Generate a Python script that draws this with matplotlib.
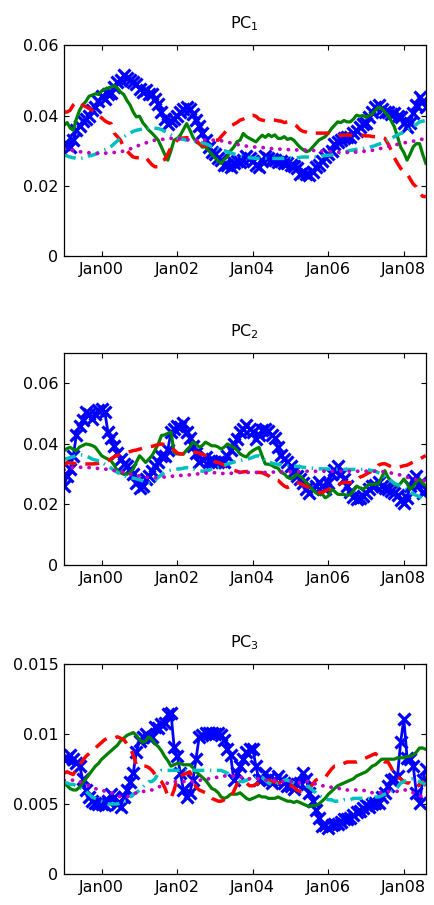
import matplotlib
matplotlib.use("Agg")
import matplotlib.pyplot as plt
import matplotlib.dates as mdates
import pandas as pd

plt.rcParams['font.family'] = ['DejaVu Sans']
plt.rcParams['mathtext.fontset'] = 'dejavusans'

# monthly observations, Jan 1999 .. Aug 2008
dates = pd.date_range('1999-01-01', periods=116, freq='MS')

# ---------------- PC1 ----------------
pc1_blue = [0.032, 0.0315, 0.031, 0.033, 0.0358, 0.037, 0.0385, 0.039, 0.040, 0.0415, 0.0425, 0.044,
            0.0455, 0.0448, 0.0462, 0.0465, 0.048, 0.0495, 0.050, 0.0514, 0.0508, 0.0502, 0.0495, 0.049,
            0.0475, 0.0468, 0.0472, 0.0462, 0.046, 0.0448, 0.0434, 0.041, 0.039, 0.0377, 0.0385, 0.039,
            0.040, 0.041, 0.042, 0.0425, 0.042, 0.0405, 0.0387, 0.037, 0.035, 0.033, 0.031, 0.0295,
            0.029, 0.028, 0.0273, 0.026, 0.0258, 0.0254, 0.0265, 0.027, 0.0268, 0.0273, 0.0285, 0.028,
            0.027, 0.026, 0.0254, 0.027, 0.0284, 0.028, 0.0275, 0.0273, 0.0268, 0.027, 0.0265, 0.0264,
            0.026, 0.0255, 0.025, 0.0235, 0.024, 0.0235, 0.0232, 0.0238, 0.0254, 0.026, 0.0272, 0.0282,
            0.029, 0.030, 0.032, 0.0325, 0.033, 0.0335, 0.0339, 0.034, 0.035, 0.0355, 0.0368, 0.0375,
            0.038, 0.0396, 0.041, 0.0425, 0.0429, 0.042, 0.041, 0.041, 0.0405, 0.0406, 0.040, 0.0396,
            0.038, 0.0368, 0.038, 0.0406, 0.043, 0.0453, 0.044, 0.0424]
pc1_green = [0.0372, 0.038, 0.0365, 0.0358, 0.039, 0.0415, 0.043, 0.044, 0.0455, 0.0458, 0.0462, 0.046,
             0.047, 0.0475, 0.0478, 0.0481, 0.0485, 0.0478, 0.0467, 0.046, 0.0443, 0.043, 0.041, 0.0396,
             0.0398, 0.038, 0.037, 0.0358, 0.035, 0.034, 0.033, 0.031, 0.029, 0.0273, 0.030, 0.033,
             0.0335, 0.0345, 0.036, 0.0377, 0.036, 0.0339, 0.0325, 0.032, 0.031, 0.0311, 0.030, 0.029,
             0.028, 0.027, 0.0264, 0.0275, 0.0283, 0.030, 0.031, 0.0325, 0.033, 0.0349, 0.034, 0.0335,
             0.033, 0.0325, 0.0335, 0.0344, 0.0338, 0.0346, 0.034, 0.0345, 0.0335, 0.0335, 0.034, 0.0332,
             0.0335, 0.033, 0.032, 0.031, 0.0303, 0.0297, 0.030, 0.031, 0.032, 0.033, 0.0335, 0.034,
             0.035, 0.0363, 0.0372, 0.0382, 0.038, 0.0386, 0.0382, 0.0382, 0.039, 0.0401, 0.0398, 0.040,
             0.0395, 0.040, 0.0405, 0.0415, 0.0424, 0.042, 0.041, 0.040, 0.0385, 0.0368, 0.034, 0.031,
             0.0295, 0.0273, 0.029, 0.0311, 0.032, 0.032, 0.029, 0.0264]
pc1_red = [0.041, 0.041, 0.0415, 0.043, 0.0438, 0.0439, 0.043, 0.0425, 0.042, 0.0415, 0.041, 0.040,
           0.0393, 0.0385, 0.038, 0.0377, 0.035, 0.034, 0.033, 0.031, 0.030, 0.029, 0.0282, 0.028,
           0.028, 0.0282, 0.0282, 0.027, 0.026, 0.0254, 0.0255, 0.027, 0.0275, 0.029, 0.031, 0.032,
           0.033, 0.0336, 0.0336, 0.0337, 0.0336, 0.0336, 0.033, 0.032, 0.0315, 0.0313, 0.032, 0.0325,
           0.033, 0.033, 0.034, 0.035, 0.036, 0.037, 0.0375, 0.038, 0.0387, 0.039, 0.0395, 0.040,
           0.0401, 0.0398, 0.039, 0.0387, 0.0385, 0.0387, 0.0388, 0.0387, 0.0385, 0.0384, 0.038, 0.0382,
           0.038, 0.0375, 0.037, 0.036, 0.0355, 0.0353, 0.035, 0.0352, 0.035, 0.035, 0.035, 0.035,
           0.035, 0.0348, 0.0346, 0.0345, 0.0344, 0.0344, 0.0345, 0.0344, 0.0344, 0.0344, 0.0344, 0.0344,
           0.0342, 0.0342, 0.034, 0.034, 0.034, 0.0338, 0.0335, 0.032, 0.0301, 0.028, 0.0264, 0.025,
           0.024, 0.0235, 0.022, 0.0205, 0.0197, 0.018, 0.017, 0.0169]
pc1_cyan = [0.0287, 0.0285, 0.0282, 0.028, 0.0278, 0.0278, 0.0279, 0.0282, 0.0285, 0.0287, 0.029, 0.0295,
            0.030, 0.0303, 0.0306, 0.0312, 0.032, 0.0328, 0.0335, 0.0339, 0.0345, 0.035, 0.0355, 0.0358,
            0.036, 0.0362, 0.0363, 0.0364, 0.0365, 0.0364, 0.0363, 0.036, 0.0355, 0.035, 0.0345, 0.0339,
            0.0336, 0.0334, 0.0332, 0.033, 0.033, 0.0328, 0.0327, 0.0325, 0.0322, 0.032, 0.0316, 0.0311,
            0.0308, 0.0305, 0.0302, 0.030, 0.0297, 0.0294, 0.0291, 0.0288, 0.0285, 0.0283, 0.0282, 0.028,
            0.0279, 0.0278, 0.0278, 0.0278, 0.0278, 0.0278, 0.0278, 0.0278, 0.0278, 0.0278, 0.0278, 0.0279,
            0.028, 0.028, 0.028, 0.0281, 0.0282, 0.0282, 0.0282, 0.0283, 0.0283, 0.0284, 0.0285, 0.0286,
            0.0287, 0.0288, 0.029, 0.0292, 0.0294, 0.0296, 0.0298, 0.0301, 0.0302, 0.0304, 0.0305, 0.0306,
            0.0308, 0.031, 0.0312, 0.0315, 0.0318, 0.0322, 0.0325, 0.033, 0.0335, 0.034, 0.0345, 0.0349,
            0.0353, 0.0358, 0.0363, 0.0368, 0.0375, 0.0382, 0.0384, 0.0386]
pc1_magenta = [0.0306, 0.0305, 0.0303, 0.0301, 0.0299, 0.0297, 0.0296, 0.0295, 0.0294, 0.0293, 0.0292, 0.0292,
               0.0292, 0.0293, 0.0293, 0.0294, 0.0295, 0.0296, 0.0297, 0.0299, 0.0302, 0.0305, 0.0308, 0.0312,
               0.0316, 0.0319, 0.0322, 0.0325, 0.0328, 0.033, 0.0331, 0.0332, 0.0333, 0.0334, 0.0335, 0.0335,
               0.0335, 0.0334, 0.0333, 0.0332, 0.0331, 0.033, 0.033, 0.033, 0.033, 0.033, 0.033, 0.033,
               0.033, 0.0329, 0.0328, 0.0327, 0.0325, 0.0322, 0.032, 0.0318, 0.0316, 0.0314, 0.0313, 0.0312,
               0.0311, 0.031, 0.031, 0.0309, 0.0308, 0.0307, 0.0306, 0.0305, 0.0305, 0.0304, 0.0304, 0.0303,
               0.0303, 0.0303, 0.0302, 0.0302, 0.0302, 0.0302, 0.0301, 0.0301, 0.030, 0.030, 0.0299, 0.0299,
               0.0298, 0.0297, 0.0296, 0.0296, 0.0295, 0.0295, 0.0295, 0.0295, 0.0296, 0.0296, 0.0297, 0.0298,
               0.0299, 0.030, 0.0301, 0.0303, 0.0305, 0.0307, 0.031, 0.0312, 0.0314, 0.0316, 0.0318, 0.032,
               0.0322, 0.0324, 0.0325, 0.0327, 0.0329, 0.0331, 0.0333, 0.0334]

# ---------------- PC2 ----------------
pc2_blue = [0.0261, 0.0294, 0.0317, 0.036, 0.0429, 0.046, 0.048, 0.0506, 0.050, 0.0483, 0.050, 0.0511,
            0.0515, 0.0505, 0.044, 0.042, 0.0394, 0.037, 0.035, 0.0335, 0.0328, 0.0317, 0.030, 0.0272,
            0.0256, 0.026, 0.0283, 0.0294, 0.031, 0.0328, 0.0339, 0.036, 0.0361, 0.038, 0.0439, 0.045,
            0.0461, 0.0455, 0.0468, 0.0439, 0.042, 0.0394, 0.037, 0.0339, 0.0351, 0.0356, 0.0345, 0.034,
            0.034, 0.034, 0.0345, 0.034, 0.036, 0.038, 0.040, 0.0418, 0.044, 0.0451, 0.0462, 0.045,
            0.044, 0.0418, 0.043, 0.0445, 0.045, 0.0442, 0.043, 0.042, 0.039, 0.0362, 0.035, 0.034,
            0.0328, 0.031, 0.0295, 0.0284, 0.027, 0.025, 0.0239, 0.025, 0.026, 0.0273, 0.026, 0.025,
            0.027, 0.030, 0.0315, 0.0328, 0.030, 0.0284, 0.026, 0.024, 0.0225, 0.0217, 0.022, 0.0228,
            0.0239, 0.025, 0.026, 0.0265, 0.0273, 0.026, 0.0255, 0.025, 0.0245, 0.0239, 0.023, 0.0215,
            0.0206, 0.022, 0.026, 0.028, 0.0295, 0.027, 0.0239, 0.025]
pc2_green = [0.0378, 0.0385, 0.0389, 0.0382, 0.0378, 0.039, 0.0395, 0.040, 0.0398, 0.0395, 0.0389, 0.0375,
             0.0361, 0.0355, 0.035, 0.0344, 0.033, 0.0311, 0.0305, 0.030, 0.030, 0.0305, 0.0317, 0.034,
             0.0361, 0.035, 0.0339, 0.035, 0.0361, 0.038, 0.040, 0.0428, 0.043, 0.0435, 0.0439, 0.0372,
             0.0367, 0.0367, 0.0367, 0.038, 0.039, 0.0406, 0.040, 0.0389, 0.0395, 0.0406, 0.040, 0.0394,
             0.0394, 0.039, 0.0383, 0.039, 0.040, 0.0395, 0.0389, 0.038, 0.0367, 0.0361, 0.0357, 0.037,
             0.0378, 0.0384, 0.0389, 0.036, 0.0334, 0.0333, 0.033, 0.0323, 0.032, 0.0306, 0.0301, 0.029,
             0.0285, 0.029, 0.0301, 0.0294, 0.0285, 0.0273, 0.026, 0.025, 0.0239, 0.0233, 0.0235, 0.0222,
             0.0228, 0.025, 0.0244, 0.0234, 0.0233, 0.0233, 0.023, 0.0233, 0.0245, 0.0261, 0.0255, 0.025,
             0.0258, 0.0267, 0.0267, 0.0267, 0.027, 0.029, 0.0312, 0.029, 0.0278, 0.0267, 0.0261, 0.027,
             0.0284, 0.027, 0.025, 0.026, 0.0275, 0.0284, 0.027, 0.0262]
pc2_red = [0.0328, 0.0339, 0.0337, 0.0336, 0.0335, 0.0334, 0.0334, 0.0334, 0.0334, 0.0334, 0.0335, 0.0336,
           0.0338, 0.0339, 0.0345, 0.0351, 0.0358, 0.0362, 0.0367, 0.037, 0.0373, 0.0375, 0.0378, 0.038,
           0.0383, 0.0386, 0.0388, 0.039, 0.0392, 0.0395, 0.0398, 0.040, 0.0398, 0.0393, 0.039, 0.038,
           0.037, 0.0367, 0.0367, 0.0368, 0.037, 0.0372, 0.0373, 0.037, 0.0365, 0.0362, 0.0355, 0.0348,
           0.0341, 0.0339, 0.0335, 0.033, 0.0325, 0.0317, 0.0313, 0.031, 0.0306, 0.0308, 0.0309, 0.0309,
           0.0308, 0.0306, 0.0306, 0.0305, 0.030, 0.0295, 0.0286, 0.0283, 0.028, 0.027, 0.0261, 0.0256,
           0.0262, 0.0268, 0.0273, 0.027, 0.0265, 0.026, 0.0256, 0.025, 0.0244, 0.024, 0.0239, 0.0245,
           0.025, 0.0256, 0.026, 0.0265, 0.027, 0.0273, 0.0273, 0.0272, 0.0272, 0.028, 0.029, 0.0294,
           0.030, 0.0306, 0.031, 0.0318, 0.033, 0.0334, 0.0335, 0.033, 0.0325, 0.0322, 0.0323, 0.0325,
           0.0328, 0.033, 0.0335, 0.034, 0.0345, 0.035, 0.0356, 0.0362]
pc2_cyan = [0.035, 0.0352, 0.0355, 0.0358, 0.0362, 0.0365, 0.0363, 0.036, 0.0356, 0.035, 0.0347, 0.0344,
            0.034, 0.0333, 0.0328, 0.032, 0.0313, 0.0306, 0.030, 0.0295, 0.029, 0.0289, 0.0287, 0.0285,
            0.0282, 0.0278, 0.0273, 0.0272, 0.0275, 0.028, 0.029, 0.0298, 0.0305, 0.0311, 0.0313, 0.0315,
            0.0317, 0.0318, 0.032, 0.0322, 0.032, 0.0318, 0.0315, 0.0312, 0.031, 0.0311, 0.0313, 0.0317,
            0.032, 0.0323, 0.0327, 0.033, 0.0334, 0.0337, 0.034, 0.0343, 0.0345, 0.0348, 0.035, 0.0352,
            0.0356, 0.036, 0.0361, 0.0355, 0.0344, 0.034, 0.0337, 0.0334, 0.0333, 0.0332, 0.033, 0.0329,
            0.0328, 0.0327, 0.0326, 0.0325, 0.0323, 0.0322, 0.0321, 0.032, 0.0319, 0.0318, 0.0318, 0.0317,
            0.0317, 0.0317, 0.0316, 0.0316, 0.0316, 0.0316, 0.0316, 0.0316, 0.0316, 0.0316, 0.0316, 0.0316,
            0.0315, 0.0314, 0.0312, 0.031, 0.0305, 0.030, 0.029, 0.0283, 0.0278, 0.027, 0.0265, 0.0262,
            0.0255, 0.0248, 0.024, 0.0235, 0.023, 0.0225, 0.022, 0.0218]
pc2_magenta = [0.0315, 0.0318, 0.032, 0.0322, 0.0323, 0.0323, 0.0323, 0.0323, 0.0322, 0.0321, 0.032, 0.0319,
               0.0318, 0.0317, 0.0316, 0.0314, 0.0312, 0.031, 0.0308, 0.0306, 0.0303, 0.030, 0.0298, 0.0296,
               0.0294, 0.0292, 0.029, 0.0289, 0.0289, 0.0289, 0.029, 0.029, 0.0291, 0.0292, 0.0293, 0.0294,
               0.0295, 0.0296, 0.0296, 0.0297, 0.0298, 0.0299, 0.030, 0.0302, 0.0303, 0.0304, 0.0305, 0.0305,
               0.0305, 0.0304, 0.0303, 0.0302, 0.0302, 0.0303, 0.0304, 0.0305, 0.0306, 0.0306, 0.0306, 0.0306,
               0.0306, 0.0306, 0.0306, 0.0306, 0.0306, 0.0307, 0.0307, 0.0307, 0.0308, 0.0308, 0.0308, 0.0308,
               0.0308, 0.0308, 0.0309, 0.0309, 0.0309, 0.031, 0.031, 0.031, 0.031, 0.031, 0.031, 0.031,
               0.031, 0.031, 0.031, 0.031, 0.031, 0.031, 0.031, 0.031, 0.031, 0.031, 0.031, 0.031,
               0.031, 0.031, 0.031, 0.031, 0.031, 0.0309, 0.0308, 0.0306, 0.0304, 0.0302, 0.030, 0.0297,
               0.0293, 0.029, 0.0287, 0.0284, 0.0282, 0.028, 0.0279, 0.0278]

# ---------------- PC3 ----------------
pc3_blue = [0.0082, 0.0083, 0.0085, 0.0082, 0.0079, 0.0077, 0.0068, 0.006, 0.0055, 0.0052, 0.0051, 0.005,
            0.005, 0.0049, 0.0052, 0.0057, 0.0055, 0.005, 0.0048, 0.0055, 0.006, 0.0066, 0.0072, 0.0087,
            0.0095, 0.0098, 0.0100, 0.0097, 0.0098, 0.0105, 0.0104, 0.0107, 0.0108, 0.0114, 0.0115, 0.0091,
            0.0084, 0.0072, 0.006, 0.0055, 0.0058, 0.0067, 0.0082, 0.0098, 0.0099, 0.0101, 0.0101, 0.0101,
            0.0100, 0.0101, 0.0099, 0.0096, 0.0089, 0.0085, 0.0067, 0.0072, 0.0077, 0.0082, 0.0087, 0.0089,
            0.0089, 0.0077, 0.0067, 0.0068, 0.0072, 0.0068, 0.0065, 0.0067, 0.007, 0.0067, 0.0065, 0.0063,
            0.0063, 0.0061, 0.0064, 0.0065, 0.0072, 0.0068, 0.0058, 0.0052, 0.0046, 0.004, 0.0034, 0.0035,
            0.0033, 0.0035, 0.0036, 0.0036, 0.0037, 0.0039, 0.0039, 0.004, 0.0042, 0.0044, 0.0045, 0.0047,
            0.0049, 0.0048, 0.005, 0.0051, 0.0051, 0.0055, 0.0058, 0.0063, 0.0067, 0.0068, 0.007, 0.0094,
            0.0111, 0.0083, 0.0082, 0.0077, 0.0058, 0.0051, 0.0067, 0.0075]
pc3_green = [0.0065, 0.0063, 0.0061, 0.006, 0.006, 0.0062, 0.0065, 0.0068, 0.0071, 0.0074, 0.0077, 0.0079,
             0.0082, 0.0084, 0.0086, 0.0088, 0.009, 0.0092, 0.0095, 0.0097, 0.0099, 0.010, 0.0101, 0.0099,
             0.0096, 0.0094, 0.0095, 0.0098, 0.0096, 0.0093, 0.0091, 0.0088, 0.0084, 0.0081, 0.0077, 0.0078,
             0.0079, 0.0079, 0.0078, 0.0078, 0.0078, 0.0076, 0.0073, 0.0071, 0.0069, 0.0067, 0.0064, 0.0061,
             0.006, 0.0058, 0.0055, 0.0054, 0.0055, 0.0057, 0.0057, 0.0057, 0.0058, 0.0056, 0.0054, 0.0053,
             0.0054, 0.0055, 0.0056, 0.0055, 0.0055, 0.0054, 0.0054, 0.0054, 0.0055, 0.0054, 0.0053, 0.0052,
             0.0052, 0.0051, 0.0052, 0.0051, 0.005, 0.0049, 0.0048, 0.0049, 0.0049, 0.005, 0.0052, 0.0054,
             0.0057, 0.0059, 0.0061, 0.0063, 0.0064, 0.0065, 0.0066, 0.0067, 0.0068, 0.007, 0.0071, 0.0072,
             0.0073, 0.0075, 0.0077, 0.0078, 0.008, 0.0082, 0.0082, 0.0082, 0.0082, 0.0082, 0.0083, 0.0083,
             0.0083, 0.0084, 0.0084, 0.0085, 0.0087, 0.009, 0.009, 0.0089]
pc3_red = [0.0072, 0.0073, 0.0072, 0.0071, 0.0075, 0.0078, 0.0081, 0.0084, 0.0086, 0.0088, 0.009, 0.0092,
           0.0094, 0.0096, 0.0097, 0.0097, 0.0097, 0.0098, 0.0097, 0.0096, 0.0093, 0.009, 0.0085, 0.0078,
           0.0077, 0.0077, 0.0077, 0.0076, 0.0074, 0.0071, 0.0068, 0.0066, 0.0062, 0.0056, 0.0054, 0.006,
           0.0068, 0.007, 0.0071, 0.0072, 0.0073, 0.0068, 0.0062, 0.006, 0.0059, 0.0058, 0.0056, 0.0054,
           0.0053, 0.0052, 0.0052, 0.0053, 0.0054, 0.0055, 0.0059, 0.0064, 0.0066, 0.0066, 0.0065, 0.0063,
           0.0063, 0.0064, 0.0065, 0.0066, 0.0067, 0.0067, 0.0066, 0.0066, 0.0065, 0.0065, 0.0064, 0.0063,
           0.0063, 0.0062, 0.006, 0.0059, 0.0059, 0.0058, 0.0061, 0.0064, 0.0067, 0.0068, 0.0068, 0.0069,
           0.0072, 0.0075, 0.0077, 0.0077, 0.0078, 0.0079, 0.008, 0.008, 0.008, 0.008, 0.0081, 0.0082,
           0.0083, 0.0084, 0.0085, 0.0086, 0.0084, 0.0082, 0.008, 0.008, 0.0076, 0.0071, 0.0069, 0.0068,
           0.0066, 0.0065, 0.0065, 0.0063, 0.0062, 0.0064, 0.0066, 0.0063]
pc3_cyan = [0.0065, 0.0065, 0.0064, 0.0064, 0.0063, 0.0062, 0.006, 0.0059, 0.0057, 0.0055, 0.0054, 0.0053,
            0.0052, 0.0051, 0.005, 0.005, 0.005, 0.005, 0.0051, 0.0052, 0.0052, 0.0055, 0.0057, 0.0058,
            0.006, 0.0062, 0.0064, 0.0066, 0.0066, 0.0068, 0.0072, 0.0074, 0.0074, 0.0074, 0.0074, 0.0074,
            0.0074, 0.0074, 0.0074, 0.0074, 0.0074, 0.0074, 0.0074, 0.0074, 0.0074, 0.0074, 0.0074, 0.0074,
            0.0074, 0.0074, 0.0074, 0.0073, 0.0072, 0.007, 0.0069, 0.0067, 0.0066, 0.0066, 0.0067, 0.0068,
            0.0068, 0.0069, 0.007, 0.0069, 0.0067, 0.0065, 0.0064, 0.0064, 0.0065, 0.0066, 0.0067, 0.0067,
            0.0066, 0.0065, 0.0064, 0.0064, 0.0064, 0.0063, 0.0062, 0.006, 0.0058, 0.0056, 0.0055, 0.0054,
            0.0053, 0.0053, 0.0052, 0.0052, 0.0052, 0.0053, 0.0053, 0.0053, 0.0054, 0.0054, 0.0054, 0.0054,
            0.0054, 0.0054, 0.0054, 0.0055, 0.0055, 0.0056, 0.0057, 0.0058, 0.0059, 0.006, 0.0062, 0.0065,
            0.0066, 0.0067, 0.0068, 0.0068, 0.0067, 0.0066, 0.0065, 0.0064]
pc3_magenta = [0.0067, 0.0067, 0.0067, 0.0067, 0.0066, 0.0066, 0.0065, 0.0064, 0.0063, 0.0062, 0.0061, 0.006,
               0.006, 0.0059, 0.0058, 0.0058, 0.0057, 0.0056, 0.0055, 0.0055, 0.0055, 0.0056, 0.0057, 0.0058,
               0.0058, 0.0059, 0.0059, 0.006, 0.006, 0.0061, 0.0062, 0.0063, 0.0064, 0.0065, 0.0066, 0.0066,
               0.0066, 0.0066, 0.0066, 0.0066, 0.0066, 0.0066, 0.0066, 0.0067, 0.0067, 0.0067, 0.0068, 0.0068,
               0.0069, 0.0069, 0.0069, 0.007, 0.007, 0.007, 0.007, 0.007, 0.0069, 0.0069, 0.0069, 0.0068,
               0.0068, 0.0068, 0.0068, 0.0068, 0.0067, 0.0067, 0.0067, 0.0067, 0.0066, 0.0066, 0.0066, 0.0066,
               0.0066, 0.0066, 0.0066, 0.0065, 0.0065, 0.0066, 0.0066, 0.0066, 0.0064, 0.0063, 0.0063, 0.0063,
               0.0062, 0.0062, 0.0061, 0.0061, 0.0061, 0.006, 0.006, 0.006, 0.006, 0.006, 0.006, 0.006,
               0.0059, 0.0059, 0.0058, 0.0058, 0.0058, 0.0058, 0.0059, 0.0059, 0.0059, 0.0059, 0.0059, 0.006,
               0.006, 0.006, 0.0059, 0.0058, 0.0057, 0.0056, 0.0055, 0.0055]

titles = [r'PC$_1$', r'PC$_2$', r'PC$_3$']
ylims = [0.06, 0.07, 0.015]
yticks = [[0, 0.02, 0.04, 0.06], [0, 0.02, 0.04, 0.06], [0, 0.005, 0.01, 0.015]]
yticklabels = [['0', '0.02', '0.04', '0.06'], ['0', '0.02', '0.04', '0.06'], ['0', '0.005', '0.01', '0.015']]
xtick_years = [2000, 2002, 2004, 2006, 2008]

panels = [
    [pc1_blue, pc1_green, pc1_red, pc1_cyan, pc1_magenta],
    [pc2_blue, pc2_green, pc2_red, pc2_cyan, pc2_magenta],
    [pc3_blue, pc3_green, pc3_red, pc3_cyan, pc3_magenta],
]

fig = plt.figure(figsize=(4.35, 9.05), dpi=100)
boxes = [[0.147, 0.717, 0.832, 0.233],
         [0.147, 0.3757, 0.832, 0.234],
         [0.147, 0.0343, 0.832, 0.232]]

for k in range(3):
    ax = fig.add_axes(boxes[k])
    b, g, r, c, m = panels[k]
    ax.plot(dates, b, color='#0000ff', lw=2, marker='x', ms=8, mew=2.3)
    ax.plot(dates, g, color='#008000', lw=2.3)
    ax.plot(dates, r, color='#ff0000', lw=2.5, dashes=(4, 2.6))
    ax.plot(dates, c, color='#00bfbf', lw=2.5, dashes=(3.5, 1.6, 0.4, 1.6))
    ax.plot(dates, m, color='#bf00bf', lw=2.7, linestyle=(0, (0.05, 2.2)),
            dash_capstyle='round')
    ax.set_xlim(dates[0], dates[-1])
    ax.set_ylim(0, ylims[k])
    ax.set_yticks(yticks[k])
    ax.set_yticklabels(yticklabels[k])
    ax.set_xticks([pd.Timestamp(year=y, month=1, day=1) for y in xtick_years])
    ax.xaxis.set_major_formatter(mdates.DateFormatter('%b%y'))
    ax.tick_params(direction='in', length=3.5, width=0.8, top=True, right=True,
                   labelsize=11.5, pad=4)
    for s in ax.spines.values():
        s.set_linewidth(0.9)
    ax.set_title(titles[k], fontsize=11.5, pad=12)

fig.savefig('out.png', dpi=100)
